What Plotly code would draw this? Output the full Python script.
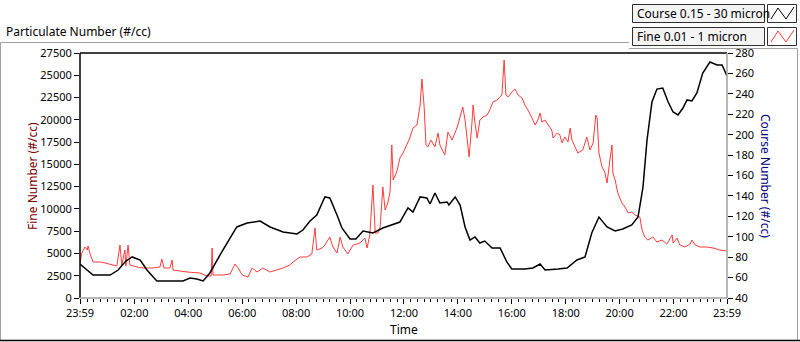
import plotly.graph_objects as go
from datetime import datetime, timedelta

# ---------------- data ----------------
series_names = ["Course 0.15 - 30 micron", "Fine 0.01 - 1 micron"]

course_times = ["23:59", "00:15", "00:28", "01:06", "01:24", "01:39", "01:55", "02:13", "02:28", "02:50",
                "03:19", "03:48", "04:04", "04:19", "04:33", "04:48", "05:17", "05:48", "06:11", "06:40",
                "07:02", "07:31", "08:02", "08:15", "08:31", "08:46", "09:04", "09:15", "09:31", "09:42",
                "10:00", "10:13", "10:29", "10:51", "11:13", "11:36", "11:51", "12:09", "12:20", "12:36",
                "12:51", "12:58", "13:09", "13:20", "13:36", "13:40", "13:54", "14:05", "14:16", "14:27",
                "14:38", "14:49", "15:00", "15:16", "15:34", "15:49", "16:00", "16:29", "16:47", "17:03",
                "17:14", "17:43", "18:03", "18:25", "18:43", "18:58", "19:14", "19:32", "19:50", "20:07",
                "20:27", "20:41", "20:52", "21:01", "21:12", "21:23", "21:36", "21:48", "21:59", "22:10",
                "22:21", "22:30", "22:41", "22:52", "23:05", "23:21", "23:37", "23:48", "23:59"]
course_values = [73.3, 67.4, 62.5, 62.5, 67.4, 75.3, 80.2, 77.2, 67.4, 56.7,
                 56.7, 56.7, 59.6, 58.6, 56.7, 64.5, 87.0, 109.6, 113.5, 115.4,
                 109.6, 104.7, 102.7, 106.6, 115.4, 121.3, 139.0, 138.0, 121.3, 108.6,
                 97.8, 97.8, 105.6, 103.7, 108.6, 112.5, 114.4, 128.2, 124.2, 139.0,
                 138.0, 132.1, 142.9, 133.1, 134.1, 131.1, 139.0, 131.1, 109.6, 96.8,
                 99.8, 93.9, 95.8, 89.0, 89.0, 75.3, 68.4, 68.4, 69.4, 73.3,
                 67.4, 68.4, 69.4, 77.2, 80.2, 103.7, 119.3, 109.6, 105.6, 107.6,
                 111.5, 119.3, 148.7, 194.8, 232.0, 244.7, 245.7, 232.0, 222.2, 219.3,
                 226.1, 234.0, 233.0, 240.8, 260.4, 271.2, 268.2, 268.2, 257.5]

fine_times = ["23:59", "00:03", "00:10", "00:15", "00:17", "00:21", "00:28", "00:44", "00:55", "01:06",
              "01:21", "01:28", "01:32", "01:39", "01:41", "01:46", "01:50", "02:06", "02:19", "02:41",
              "02:57", "03:01", "03:06", "03:19", "03:24", "03:26", "03:57", "04:26", "04:42", "04:51",
              "04:53", "04:55", "05:17", "05:33", "05:44", "05:51", "06:00", "06:13", "06:22", "06:33",
              "06:46", "07:02", "07:17", "07:31", "07:46", "07:53", "08:09", "08:24", "08:35", "08:42",
              "08:46", "08:58", "09:04", "09:15", "09:22", "09:31", "09:38", "09:44", "09:55", "10:07",
              "10:22", "10:33", "10:38", "10:44", "10:51", "10:56", "11:02", "11:07", "11:13", "11:18",
              "11:24", "11:29", "11:33", "11:36", "11:44", "11:51", "11:58", "12:07", "12:13", "12:20",
              "12:29", "12:36", "12:40", "12:45", "12:49", "12:53", "13:00", "13:09", "13:16", "13:20",
              "13:31", "13:38", "13:47", "13:58", "14:05", "14:11", "14:16", "14:20", "14:25", "14:31",
              "14:34", "14:38", "14:43", "14:49", "14:56", "15:05", "15:11", "15:18", "15:27", "15:38",
              "15:43", "15:47", "15:52", "16:00", "16:07", "16:14", "16:23", "16:29", "16:36", "16:45",
              "16:52", "16:58", "17:03", "17:07", "17:14", "17:21", "17:29", "17:32", "17:41", "17:47",
              "17:52", "17:58", "18:05", "18:10", "18:14", "18:21", "18:27", "18:38", "18:47", "18:54",
              "19:01", "19:07", "19:10", "19:14", "19:21", "19:27", "19:32", "19:39", "19:43", "19:45",
              "19:50", "19:56", "20:05", "20:12", "20:19", "20:27", "20:34", "20:45", "20:50", "20:56",
              "21:03", "21:14", "21:23", "21:34", "21:45", "21:57", "21:59", "22:08", "22:14", "22:25",
              "22:37", "22:41", "22:48", "22:59", "23:14", "23:28", "23:43", "23:59"]
fine_values = [3928, 5051, 5724, 5388, 5836, 5051, 4041, 4041, 3928, 3816,
               3592, 5949, 3704, 5388, 3592, 5949, 3704, 3479, 3367, 3367,
               3479, 4377, 3367, 3367, 4265, 3143, 2918, 2806, 2469, 2469,
               5612, 2582, 2582, 2694, 3816, 3367, 2582, 2357, 3367, 2918,
               3367, 2918, 3143, 3367, 3704, 4041, 4602, 4602, 4939, 7857,
               5388, 5612, 5949, 6847, 5724, 5051, 6847, 5724, 4939, 5949,
               6173, 6734, 5612, 7071, 12683, 7296, 7296, 7969, 12459, 9877,
               10663, 11897, 17173, 13244, 14142, 15714, 16275, 17397, 17958, 19081,
               19418, 21662, 24581, 21438, 17173, 16948, 17734, 16948, 18520, 17173,
               16050, 18632, 17734, 19081, 20203, 21438, 19979, 17734, 15826, 19418,
               21662, 19642, 17958, 19979, 20315, 20540, 21101, 21999, 22224, 22785,
               26713, 22785, 22560, 23121, 23458, 22785, 22448, 21662, 21101, 20203,
               19418, 19979, 20764, 19754, 19979, 19418, 18856, 17958, 18520, 18295,
               17397, 18071, 17509, 19081, 17734, 16948, 16275, 16612, 18071, 16612,
               17397, 20540, 20203, 16275, 14703, 14142, 12908, 15714, 17173, 14030,
               13244, 11785, 10663, 10214, 9540, 9653, 9316, 9091, 7632, 6847,
               6510, 6847, 6285, 6510, 6061, 7071, 6173, 6734, 5949, 5724,
               6061, 6510, 5949, 5724, 5724, 5612, 5388, 5275]

tick_labels = ["23:59", "02:00", "04:00", "06:00", "08:00", "10:00", "12:00",
               "14:00", "16:00", "18:00", "20:00", "22:00", "23:59"]

# ---------------- helpers ----------------
def to_dt(times):
    day = datetime(2023, 1, 1)
    out, prev = [], None
    for t in times:
        h, m = map(int, t.split(":"))
        cur = day + timedelta(hours=h, minutes=m)
        if prev is not None and cur <= prev:
            day += timedelta(days=1)
            cur = day + timedelta(hours=h, minutes=m)
        out.append(cur)
        prev = cur
    return out

tick_vals = to_dt(tick_labels)
x_start, x_end = tick_vals[0], tick_vals[-1]

W, H = 800, 342
L, R, T, B = 80, 727, 53, 298

def px(x):
    return (x - L) / (R - L)

def py(y):
    return (B - y) / (B - T)

FONT = "Noto Sans"

fig = go.Figure()
fig.add_trace(go.Scatter(x=to_dt(course_times), y=course_values, mode="lines",
                         line=dict(color="#000000", width=1.5), name=series_names[0],
                         yaxis="y2"))
fig.add_trace(go.Scatter(x=to_dt(fine_times), y=fine_values, mode="lines",
                         line=dict(color="#ff3b3b", width=1), name=series_names[1],
                         yaxis="y"))

shapes = []
# outer frame
shapes.append(dict(type="line", xref="paper", yref="paper", x0=px(0.5), x1=px(629), y0=py(42.5), y1=py(42.5),
                   line=dict(color="#a0a0a0", width=1)))
shapes.append(dict(type="line", xref="paper", yref="paper", x0=px(0.5), x1=px(0.5), y0=py(42.5), y1=py(340),
                   line=dict(color="#a0a0a0", width=1)))
shapes.append(dict(type="line", xref="paper", yref="paper", x0=px(797.5), x1=px(797.5), y0=py(48.5), y1=py(340),
                   line=dict(color="#a0a0a0", width=1)))
shapes.append(dict(type="line", xref="paper", yref="paper", x0=px(629), x1=px(797.5), y0=py(48.5), y1=py(48.5),
                   line=dict(color="#a0a0a0", width=1)))
shapes.append(dict(type="line", xref="paper", yref="paper", x0=px(0), x1=px(800), y0=py(340.5), y1=py(340.5),
                   line=dict(color="#000000", width=1.5)))
# plot frame
shapes.append(dict(type="line", xref="paper", yref="paper", x0=0, x1=1, y0=1, y1=1, line=dict(color="#000000", width=1.5)))
shapes.append(dict(type="line", xref="paper", yref="paper", x0=0, x1=0, y0=0, y1=1, line=dict(color="#000000", width=1.5)))
shapes.append(dict(type="line", xref="paper", yref="paper", x0=0, x1=1, y0=0, y1=0, line=dict(color="#a0a0a0", width=1.5)))
shapes.append(dict(type="line", xref="paper", yref="paper", x0=1, x1=1, y0=0, y1=1, line=dict(color="#a0a0a0", width=1.5)))

annotations = []
# legend
legend_colors = ["#000000", "#ff3b3b"]
rows = [(4, 22), (27, 45)]
for name, col, (y0, y1) in zip(series_names, legend_colors, rows):
    shapes.append(dict(type="rect", xref="paper", yref="paper", x0=px(632.5), x1=px(764.5), y0=py(y0 + 0.5), y1=py(y1 + 0.5),
                       line=dict(color="#303030", width=1), fillcolor="#f4f4f4"))
    shapes.append(dict(type="rect", xref="paper", yref="paper", x0=px(767.5), x1=px(796.5), y0=py(y0 + 0.5), y1=py(y1 + 0.5),
                       line=dict(color="#303030", width=1), fillcolor="#ffffff"))
    pts = [(771, y1 - 3), (778, y0 + 4), (786, y1 - 3), (794, y0 + 3)]
    path = "M " + " L ".join(f"{px(a)},{py(b)}" for a, b in pts)
    shapes.append(dict(type="path", xref="paper", yref="paper", path=path, line=dict(color=col, width=1)))
    annotations.append(dict(xref="paper", yref="paper", x=px(635), y=py((y0 + y1) / 2 + 0.5), text=name,
                            showarrow=False, xanchor="left", yanchor="middle",
                            font=dict(family=FONT, size=12, color="#000000")))

annotations.append(dict(xref="paper", yref="paper", x=px(4), y=py(31), text="Particulate Number (#/cc)",
                        showarrow=False, xanchor="left", yanchor="middle",
                        font=dict(family=FONT, size=12, color="#000000")))
annotations.append(dict(xref="paper", yref="paper", x=px(32), y=py(176), text="Fine Number (#/cc)",
                        showarrow=False, xanchor="center", yanchor="middle", textangle=-90,
                        font=dict(family=FONT, size=12, color="#7a0000")))
annotations.append(dict(xref="paper", yref="paper", x=px(766), y=py(176), text="Course Number (#/cc)",
                        showarrow=False, xanchor="center", yanchor="middle", textangle=90,
                        font=dict(family=FONT, size=12, color="#00007a")))
annotations.append(dict(xref="paper", yref="paper", x=px(404), y=py(329), text="Time",
                        showarrow=False, xanchor="center", yanchor="middle",
                        font=dict(family=FONT, size=12, color="#000000")))

fig.update_layout(
    width=W, height=H,
    margin=dict(l=L, r=W - R, t=T, b=H - B),
    paper_bgcolor="#ffffff", plot_bgcolor="#ffffff",
    showlegend=False,
    hovermode=False,
    font=dict(family=FONT, size=11, color="#000000"),
    xaxis=dict(type="date", range=[x_start, x_end], tickvals=tick_vals, ticktext=tick_labels,
               ticks="outside", ticklen=5, tickcolor="#000000", tickwidth=1,
               showgrid=False, zeroline=False, showline=False,
               tickfont=dict(family=FONT, size=11, color="#000000"),
               minor=dict(ticks="outside", ticklen=3, tickcolor="#000000",
                          dtick=15 * 60 * 1000, tick0="2023-01-02 00:00", showgrid=False)),
    yaxis=dict(range=[0, 27500], dtick=2500, tickformat="d", ticks="outside", ticklen=5,
               tickcolor="#000000", showgrid=False, zeroline=False, showline=False,
               tickfont=dict(family=FONT, size=11, color="#000000")),
    yaxis2=dict(range=[40, 280], dtick=20, tickformat="d", overlaying="y", side="right",
                ticks="outside", ticklen=5, tickcolor="#000000", showgrid=False,
                zeroline=False, showline=False,
                tickfont=dict(family=FONT, size=11, color="#000000")),
    shapes=shapes,
    annotations=annotations,
)

fig.write_html("out.html", config={"displayModeBar": False},
               post_script="document.body.style.margin='0px';")
